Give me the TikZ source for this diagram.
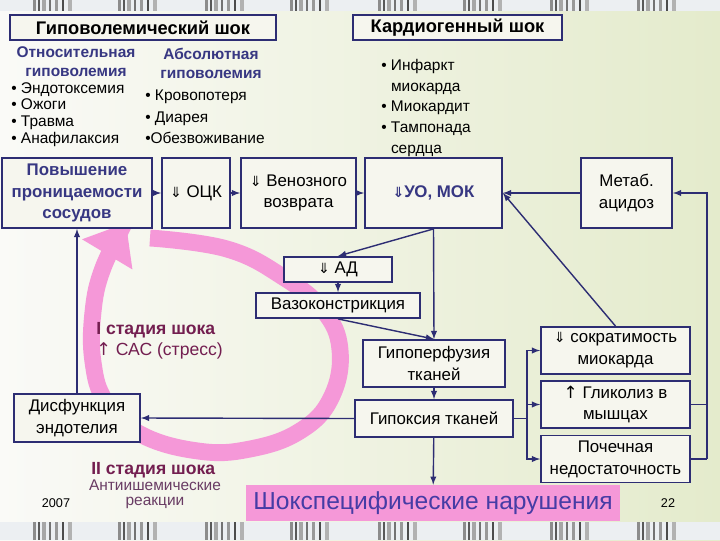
\documentclass[tikz,border=0pt]{standalone}
\usepackage{fontspec}
\setmainfont{Liberation Sans}
\newfontfamily\symfont{DejaVu Sans}
\usepackage{tikz}
\usetikzlibrary{
    arrows,
    arrows.meta,
    positioning
}
\definecolor{navy}{RGB}{45,45,115}
\definecolor{titleblue}{RGB}{55,55,130}
\definecolor{barblue}{RGB}{70,60,165}
\definecolor{pinkc}{RGB}{245,152,216}
\definecolor{stagec}{RGB}{115,30,80}
\definecolor{antic}{RGB}{105,60,100}
\definecolor{boxfill}{RGB}{246,246,238}
\definecolor{bgl}{RGB}{250,250,247}
\definecolor{bgr}{RGB}{228,235,204}
\definecolor{stripbg}{RGB}{236,239,242}
\newcommand{\dnarr}{{\symfont\fontsize{10}{10}\selectfont ⇓}}
\newcommand{\uparr}{{\symfont ↑}}

\begin{document}
\begin{tikzpicture}[x=0.025cm, y=-0.025cm,
    box/.style={draw=navy, line width=1.3pt, fill=boxfill, align=center, inner sep=0pt,
        font=\fontsize{12}{15.5}\selectfont},
    sz/.style 2 args={minimum width=#1*0.025cm, minimum height=#2*0.025cm},
    hdr/.style={box, font=\fontsize{13}{15}\selectfont\bfseries},
    bluebox/.style={box, text=titleblue, font=\fontsize{12}{15.5}\selectfont\bfseries},
    gtitle/.style={align=center, text=titleblue, font=\fontsize{11}{13.5}\selectfont\bfseries},
    blist/.style={align=left, inner sep=0pt, anchor=north west},
    stage/.style={align=left, inner sep=0pt, anchor=west, text=stagec, font=\fontsize{12.5}{15}\selectfont},
    conn/.style={draw=navy, line width=1pt},
    arr/.style={conn, -latex}
]
    \useasboundingbox (0,0) rectangle (720,540);
    \shade[left color=bgl, right color=bgr] (0,0) rectangle (720,540);

    \fill[stripbg] (0,0) rectangle (720,11);
    \fill[stripbg] (0,522) rectangle (720,540);
    \foreach \bx in {33,118,205,290,378,463,550,637} {
        \foreach \dx/\w/\g in {0/3/45, 5/2/65, 9/4/35, 16/2/55, 22/3/40, 29/2/70, 35/4/30} {
            \fill[black!\g] (\bx+\dx,0) rectangle ++(\w,11);
            \fill[black!\g] (\bx+\dx,522) rectangle ++(\w,18);
        }
    }

    \draw[pinkc, line width=12pt, -{Triangle[length=26pt, width=40pt]}]
        plot[smooth, tension=0.7] coordinates {(150,238) (227,249) (283,277) (323,310) (340,350)
        (331,398) (300,431) (250,449) (198,451) (140,434) (106,402) (93,362) (93,312) (103,268) (126,223)};

    \node[hdr, sz={266}{25}] (hyp) at (143,27.5) {Гиповолемический шок};
    \node[hdr, sz={209}{25}] (card) at (457.5,27.5) {Кардиогенный шок};

    \node[gtitle] (relt) at (76,62) {Относительная\\гиповолемия};
    \node[gtitle] (abst) at (211,63) {Абсолютная\\гиповолемия};
    \node[blist, font=\fontsize{11}{12}\selectfont] (rell) at (11,82)
        {• Эндотоксемия\\• Ожоги\\• Травма\\• Анафилаксия};
    \node[blist, font=\fontsize{11}{15.2}\selectfont] (absl) at (145,90)
        {• Кровопотеря\\• Диарея\\•Обезвоживание};
    \node[blist, font=\fontsize{11}{14.7}\selectfont] (cardl) at (381,59)
        {• Инфаркт\\\phantom{• }миокарда\\• Миокардит\\• Тампонада\\\phantom{• }сердца};

    \node[bluebox, sz={150}{70}] (perm) at (77,193) {Повышение\\проницаемости\\сосудов};
    \node[box, sz={68}{70}] (ock) at (196,193) {\dnarr\ ОЦК};
    \node[box, sz={115}{70}] (ven) at (298.5,193) {\dnarr\ Венозного\\возврата};
    \node[bluebox, sz={137}{70}] (uo) at (433.5,193) {\dnarr УО, МОК};
    \node[box, sz={91}{70}] (acid) at (626.5,193) {Метаб.\\ацидоз};
    \node[box, sz={108}{25}] (ad) at (338,269.5) {\dnarr\ АД};
    \node[box, sz={164}{25}] (vaso) at (338,305.5) {Вазоконстрикция};
    \node[box, sz={142}{47}] (perf) at (434,363.5) {Гипоперфузия\\тканей};
    \node[box, sz={158}{37}] (hypox) at (434,418.5) {Гипоксия тканей};
    \node[box, sz={126}{48}] (dysf) at (77,418) {Дисфункция\\эндотелия};
    \node[box, sz={149}{47}] (contr) at (615.5,350.5) {\dnarr\ сократимость\\миокарда};
    \node[box, sz={149}{47}] (glyc) at (615.5,404.5) {\uparr\ Гликолиз в\\мышцах};
    \node[box, sz={149}{47}] (renal) at (615.5,459) {Почечная\\недостаточность};
    \node[fill=pinkc, sz={374}{36}, inner sep=0pt, text=barblue, font=\fontsize{17.5}{20}\selectfont]
        (bar) at (433,503) {Шокспецифические нарушения};

    \node[stage] (st1) at (96,341) {{\bfseries I стадия шока}\\\uparr\ САС (стресс)};
    \node[stage] (st2) at (91,470) {\bfseries II стадия шока};
    \node[align=center, text=antic, font=\fontsize{11}{10.6}\selectfont] (anti) at (155,494.5)
        {Антиишемические\\реакции};
    \node[font=\fontsize{9}{10}\selectfont] (yr) at (56,503) {2007};
    \node[font=\fontsize{9}{10}\selectfont] (pg) at (668,503) {22};

    \draw[arr] (perm) -- (ock);
    \draw[arr] (ock) -- (ven);
    \draw[arr] (ven) -- (uo);
    \draw[arr] (acid) -- (uo);
    \draw[arr] (contr.north) -- (uo.east);
    \draw[arr] (uo.south) -- (ad.north);
    \draw[arr] (uo.south) -- (perf.north);
    \draw[arr] (ad) -- (vaso);
    \draw[arr] (vaso.south) -- (perf.north);
    \draw[arr] (perf) -- (hypox);
    \draw[arr] (hypox) -- (bar);
    \draw[arr] (hypox.west) -- (dysf.east);
    \draw[arr] (dysf) -- (perm);
    \draw[conn] (hypox.east) -- ++(13,0) coordinate (br);
    \draw[arr] (br) |- (contr.west);
    \draw[arr] (br) |- (glyc.west);
    \draw[arr] (br) |- (renal.west);
    \coordinate (rs) at (707,459);
    \draw[conn] (renal.east) -- (rs);
    \draw[arr] (rs) |- (acid.east);
    \draw[conn] (glyc.east) -- (glyc.east -| rs);
\end{tikzpicture}
\end{document}
